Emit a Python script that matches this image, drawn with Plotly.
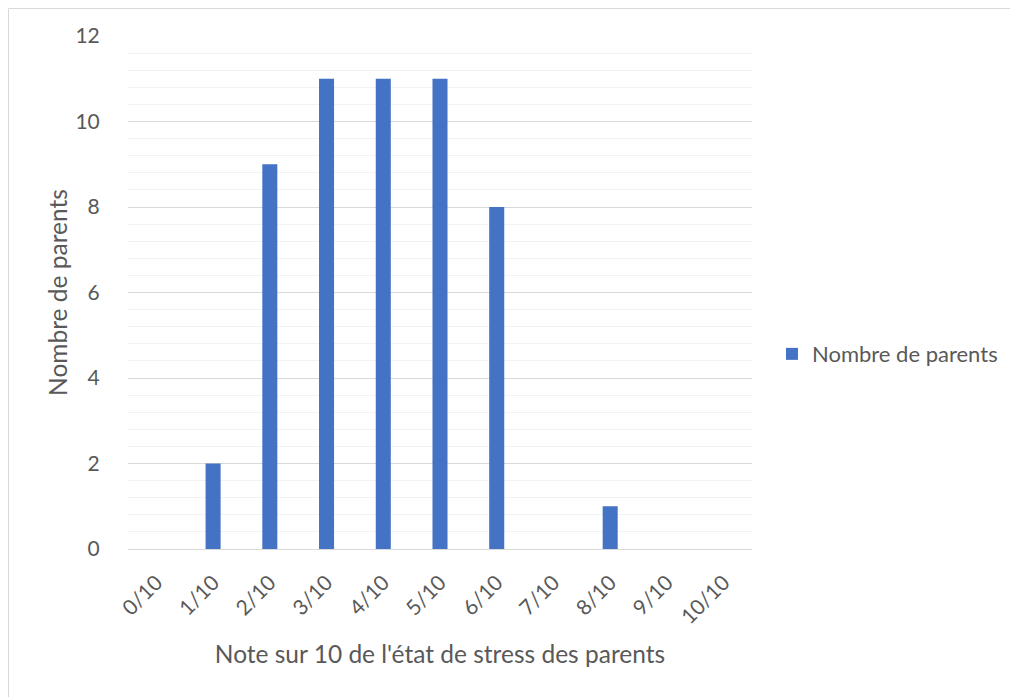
import plotly.graph_objects as go

categories = ["0/10", "1/10", "2/10", "3/10", "4/10", "5/10", "6/10", "7/10", "8/10", "9/10", "10/10"]
values = [0, 2, 9, 11, 11, 11, 8, 0, 1, 0, 0]
series_name = "Nombre de parents"
x_title = "Note sur 10 de l'état de stress des parents"
y_title = "Nombre de parents"

FONT = "Lato, Calibri, 'Open Sans', sans-serif"
GREY = "#595959"

L, T, PW, PH = 120, 28, 624, 513

fig = go.Figure()
fig.add_trace(go.Bar(
    x=categories, y=values, name=series_name,
    marker=dict(color="#4472C4", line=dict(width=0)),
    showlegend=True,
))

fig.update_layout(
    width=1010, height=689,
    margin=dict(l=L, r=1010 - L - PW, t=T, b=689 - T - PH),
    paper_bgcolor="white", plot_bgcolor="white",
    font=dict(family=FONT, color=GREY, size=21),
    bargap=0.735,
    legend=dict(x=1.032, y=0.38, yanchor="middle", xanchor="left",
                font=dict(size=22, color=GREY), bgcolor="rgba(0,0,0,0)"),
    xaxis=dict(
        type="category", tickangle=-45, tickfont=dict(size=21, color=GREY),
        showgrid=False, showline=True, linecolor="#d9d9d9", linewidth=1,
        ticks="outside", ticklen=12, tickcolor="rgba(0,0,0,0)",
        title=dict(text=x_title, font=dict(size=24.5, color=GREY), standoff=18),
    ),
    yaxis=dict(
        range=[0, 12], dtick=2, tick0=0,
        showgrid=True, gridcolor="#d9d9d9", gridwidth=1,
        minor=dict(dtick=0.4, showgrid=True, gridcolor="#f2f2f2", gridwidth=1),
        zeroline=False, showline=False,
        ticks="outside", ticklen=23, tickcolor="rgba(0,0,0,0)",
        tickfont=dict(size=21, color=GREY),
        title=dict(text=y_title, font=dict(size=24.5, color=GREY), standoff=0),
    ),
    shapes=[dict(type="rect", xref="paper", yref="paper",
                 x0=(0.5 - L) / PW, x1=(1030 - L) / PW,
                 y0=(T + PH - 710) / PH, y1=1 + (T - 0.5) / PH,
                 line=dict(color="#d9d9d9", width=1), layer="below")],
)

fig.write_html("out.html")
